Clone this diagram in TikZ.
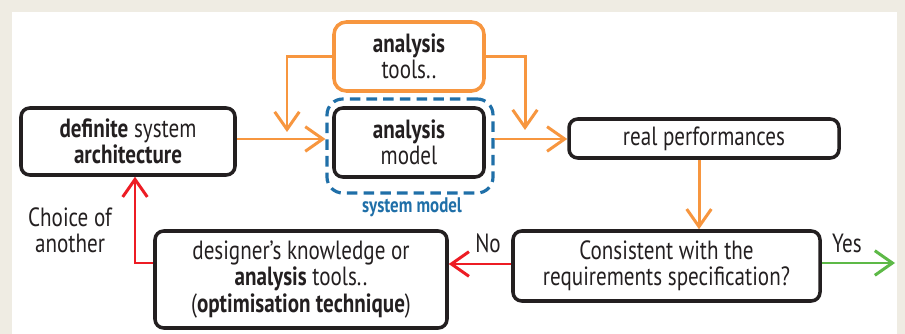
\documentclass[tikz,border=0pt]{standalone}
\usepackage{fontspec}
\setmainfont{PT Sans}[FakeStretch=0.8]
\usepackage{xcolor}
\usetikzlibrary{arrows.meta}
\definecolor{framebg}{HTML}{EFECE3}
\definecolor{toolorange}{HTML}{F7963F}
\definecolor{noRed}{HTML}{ED1C24}
\definecolor{yesGreen}{HTML}{5DB947}
\definecolor{sysBlue}{HTML}{1F6FA8}
\definecolor{inkblack}{HTML}{231F20}

\begin{document}
\begin{tikzpicture}[
      box/.style={draw=inkblack, line width=2pt, rounded corners=5pt, align=center, text=inkblack,
        font=\fontsize{15}{15}\selectfont, inner sep=2pt},
      toolbox/.style={box, draw=toolorange, rounded corners=7pt},
      sysframe/.style={draw=sysBlue, line width=1.8pt, dash pattern=on 6pt off 3.5pt, rounded corners=9pt},
      arrow/.style={-{Straight Barb[length=10pt, width=14pt, line width=1.7pt]}, line width=1.7pt, draw=toolorange},
      lbl/.style={font=\fontsize{15}{15}\selectfont, text=inkblack, align=center}]
    % background frame
    \fill[framebg] (0, 0) rectangle (18.1, -6.68);
    \fill[white] (0.24, -0.24) rectangle (17.94, -6.68);
    \useasboundingbox (0, 0) rectangle (18.1, -6.68);
    \node[box, minimum width=4.28cm, minimum height=1.34cm] (arch) at (2.56, -2.83) {\textbf{definite} system\\\textbf{architecture}};
    \node[toolbox, minimum width=3.0cm, minimum height=1.38cm] (tools) at (8.18, -1.13) {\textbf{analysis}\\tools..};
    \node[box, minimum width=3.0cm, minimum height=1.38cm] (model) at (8.18, -2.85) {\textbf{analysis}\\model};
    \node[sysframe, minimum width=3.32cm, minimum height=1.88cm] (sys) at (8.2, -2.92) {};
    \node[lbl, text=sysBlue, font=\fontsize{12}{12}\selectfont\bfseries] (syslbl) at (8.24, -4.14) {system model};
    \node[box, minimum width=5.4cm, minimum height=0.78cm] (perf) at (14.08, -2.77) {real performances};
    \node[box, minimum width=6.14cm, minimum height=1.4cm] (cons) at (13.33, -5.32) {Consistent with the\\requirements specification?};
    \node[box, minimum width=5.84cm, minimum height=1.94cm] (know) at (6.02, -5.59) {designer's knowledge or\\\textbf{analysis} tools..\\(\textbf{optimisation technique})};
    \node[lbl] (choice) at (1.4, -4.6) {Choice of\\another};
    \node[lbl] (no) at (9.76, -4.86) {No};
    \node[lbl] (yes) at (16.94, -4.86) {Yes};
    \coordinate (toolsL) at (5.74, -2.64);
    \coordinate (toolsR) at (10.5, -2.60);
    \coordinate (done) at (17.9, -5.26);
    \draw[arrow] (arch.east |- 0, -2.78) -- (sys.west |- 0, -2.78);
    \draw[arrow] (sys.east |- 0, -2.78) -- (perf.west |- 0, -2.78);
    \draw[arrow] (tools.west) -| (toolsL);
    \draw[arrow] (tools.east) -| (toolsR);
    \draw[arrow] ([xshift=-0.1cm]perf.south) -- ([xshift=-0.1cm]perf.south |- cons.north);
    \draw[arrow, draw=noRed] (cons.west |- 0, -5.28) -- (know.east |- 0, -5.28);
    \draw[arrow, draw=yesGreen] (cons.east |- 0, -5.26) -- (done);
    \draw[arrow, draw=noRed] (know.west |- 0, -5.26) -| ([xshift=0.14cm]arch.south);
  \end{tikzpicture}
\end{document}
